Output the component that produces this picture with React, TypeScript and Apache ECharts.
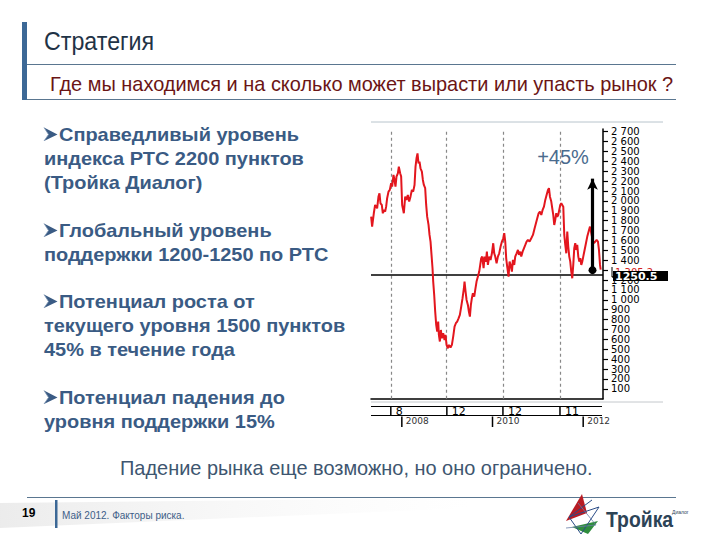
import React, { useEffect, useRef } from "react";
import * as echarts from "echarts";

// ---- data ----
const years: number[] = [
  2007.323, 2007.345, 2007.382, 2007.411, 2007.455, 2007.485, 2007.507, 2007.529, 2007.558, 2007.581,
  2007.603, 2007.632, 2007.654, 2007.676, 2007.706, 2007.735, 2007.764, 2007.787, 2007.816, 2007.838,
  2007.86, 2007.882, 2007.912, 2007.934, 2007.963, 2007.985, 2008.007, 2008.029, 2008.044, 2008.074,
  2008.103, 2008.132, 2008.162, 2008.191, 2008.221, 2008.25, 2008.28, 2008.302, 2008.324, 2008.346,
  2008.368, 2008.39, 2008.412, 2008.442, 2008.464, 2008.486, 2008.515, 2008.537, 2008.559, 2008.589,
  2008.611, 2008.633, 2008.655, 2008.677, 2008.692, 2008.714, 2008.736, 2008.758, 2008.78, 2008.802,
  2008.817, 2008.839, 2008.861, 2008.883, 2008.912, 2008.942, 2008.964, 2008.986, 2009.015,
  2009.038, 2009.074, 2009.104, 2009.133, 2009.163, 2009.192, 2009.221, 2009.251, 2009.28, 2009.31,
  2009.339, 2009.369, 2009.383, 2009.406, 2009.428, 2009.457, 2009.479, 2009.501, 2009.523, 2009.545,
  2009.567, 2009.597, 2009.619, 2009.648, 2009.678, 2009.707, 2009.729, 2009.751, 2009.773, 2009.803,
  2009.825, 2009.854, 2009.876, 2009.898, 2009.928, 2009.957, 2009.987, 2010.016, 2010.038, 2010.06,
  2010.09, 2010.119, 2010.148, 2010.178, 2010.208, 2010.237, 2010.259, 2010.281, 2010.302, 2010.324,
  2010.354, 2010.376, 2010.398, 2010.428, 2010.45, 2010.479, 2010.501, 2010.531, 2010.561, 2010.583,
  2010.612, 2010.634, 2010.664, 2010.693, 2010.723, 2010.752, 2010.781,
  2010.818, 2010.855, 2010.892, 2010.929, 2010.958, 2010.987, 2011.017, 2011.046, 2011.076, 2011.105,
  2011.135, 2011.164, 2011.193, 2011.223, 2011.245, 2011.267, 2011.296, 2011.318, 2011.34, 2011.362,
  2011.384, 2011.406, 2011.428, 2011.45, 2011.472, 2011.494, 2011.517, 2011.539, 2011.561, 2011.583,
  2011.605, 2011.627, 2011.649, 2011.671, 2011.693, 2011.715, 2011.737, 2011.759, 2011.781, 2011.803,
  2011.825, 2011.847, 2011.869, 2011.892, 2011.914, 2011.936, 2011.958, 2011.98, 2012.002, 2012.031,
  2012.061, 2012.09, 2012.12, 2012.15, 2012.179, 2012.208, 2012.238, 2012.267, 2012.296, 2012.326,
  2012.348, 2012.371, 2012.386,
];
const rts: number[] = [
  1841, 1740, 1875, 1959, 1925, 2043, 2077, 1976, 1959, 1875,
  1909, 1892, 1942, 2027, 2094, 2111, 2178, 2145, 2263, 2212,
  2145, 2246, 2279, 2347, 2279, 2246, 1959, 1909, 1875, 2043,
  2010, 2060, 1993, 2043, 2111, 2094, 2161, 2347, 2431, 2481,
  2380, 2397, 2330, 2296, 2212, 2161, 2128, 1959, 1841, 1757,
  1656, 1588, 1454, 1319, 1184, 1049, 881, 746, 679, 780,
  645, 578, 695, 611, 662, 594, 645, 544, 510,
  544, 517, 544, 628, 729, 763, 780, 813, 847, 931,
  1016, 1117, 1184, 1083, 999, 948, 881, 830, 948, 1016,
  1066, 1032, 1100, 1184, 1235, 1285, 1353, 1420, 1437, 1319,
  1437, 1386, 1487, 1353, 1437, 1403, 1470, 1572, 1470, 1437,
  1370, 1437, 1470, 1538, 1589, 1622, 1673, 1589, 1420, 1336,
  1235, 1386, 1353, 1285, 1403, 1353, 1437, 1470, 1504, 1454,
  1487, 1437, 1487, 1521, 1555, 1589, 1605,
  1589, 1622, 1656, 1723, 1774, 1824, 1875, 1892, 1858, 1909,
  1942, 2010, 2060, 2111, 2128, 2043, 1993, 1925, 1858, 1757,
  1808, 1875, 1841, 1858, 1909, 1959, 1976, 1959, 1942, 1656,
  1555, 1470, 1690, 1538, 1437, 1386, 1285, 1218, 1353, 1521,
  1572, 1504, 1555, 1437, 1386, 1420, 1353, 1386, 1437, 1504,
  1572, 1639, 1690, 1740, 1673, 1605, 1572, 1589, 1605, 1589,
  1504, 1353, 1305,
];
const monthMarks: number[] = [2007.757, 2008.993, 2010.23, 2011.488];
const monthLabels: string[] = ["8", "12", "12", "11"];
const yearMarks: number[] = [2008, 2010, 2012];
const yearLabels: string[] = ["2008", "2010", "2012"];
const supportLevel = 1250.5;
const supportLabel = "1250.5";
const lastValueLabel = "1 305.2";
const arrowX = 2012.206;
const arrowFrom = 1300;
const arrowTo = 2225;
const growthLabel = "+45%";
const hiddenTick = 1300;

const title = "Стратегия";
const subtitle = "Где мы находимся и на сколько может вырасти или упасть рынок ?";
const bulletLines: string[] = [
  "Справедливый уровень",
  "индекса РТС 2200 пунктов",
  "(Тройка Диалог)",
  "Глобальный уровень",
  "поддержки 1200-1250 по РТС",
  "Потенциал роста от",
  "текущего уровня 1500 пунктов",
  "45% в течение года",
  "Потенциал падения до",
  "уровня поддержки 15%",
];
const bulletStarts: boolean[] = [true, false, false, true, false, true, false, false, true, false];
const bulletY: number[] = [134, 158, 182, 230, 254, 301, 325, 349, 397, 421];
const conclusion = "Падение рынка еще возможно, но оно ограничено.";
const pageNo = "19";
const footerText = "Май 2012. Факторы риска.";
const brand = "Тройка";
const brandSup = "Диалог";

const X_MIN = 2007.32;
const X_MAX = 2012.437;

const fmt = (v: number) => {
  if (v <= 0 || v > 2700 || v % 100 !== 0 || v === hiddenTick) return "";
  const s = String(v);
  return s.length > 3 ? s.slice(0, s.length - 3) + " " + s.slice(-3) : s;
};

const SANS = "'Liberation Sans', Arial, 'DejaVu Sans', sans-serif";

export default function App() {
  const ref = useRef<HTMLDivElement>(null);
  useEffect(() => {
    if (!ref.current) return;
    const chart = echarts.init(ref.current, undefined, { renderer: "svg" });
    chart.setOption({
      animation: false,
      backgroundColor: "#ffffff",
      grid: { left: 371, right: 117, top: 129, bottom: 141.3 },
      xAxis: {
        type: "value",
        min: X_MIN,
        max: X_MAX,
        position: "top",
        axisLine: { show: true, lineStyle: { color: "#000", width: 1.5 } },
        axisTick: { show: false },
        axisLabel: { show: false },
        splitLine: { show: false },
      },
      yAxis: {
        type: "value",
        position: "right",
        min: 0,
        max: 2727,
        interval: 100,
        axisLine: { show: true, lineStyle: { color: "#000", width: 1.5 } },
        axisTick: { show: true, length: 5, lineStyle: { color: "#000", width: 1.2 } },
        axisLabel: {
          formatter: fmt,
          color: "#000",
          fontFamily: "'DejaVu Sans', sans-serif",
          fontSize: 10,
          lineHeight: 9,
          margin: 8,
          showMinLabel: false,
          showMaxLabel: false,
        },
        splitLine: { show: false },
      },
      series: [
        {
          type: "line",
          data: years.map((y, i) => [y, rts[i]]),
          showSymbol: false,
          lineStyle: { color: "#e3161e", width: 2 },
          z: 3,
          markLine: {
            silent: true,
            symbol: "none",
            label: { show: false },
            data: [
              ...monthMarks.map((m) => ({
                xAxis: m,
                lineStyle: { color: "#888", type: [3, 3], width: 1.2 },
              })),
              { yAxis: supportLevel, lineStyle: { color: "#000", type: "solid", width: 1.5 } },
            ],
            z: 2,
          },
        },
        {
          type: "line",
          data: [],
          markLine: {
            silent: true,
            symbol: ["circle", "arrow"],
            symbolSize: [8, 11],
            label: { show: false },
            lineStyle: { color: "#000", type: "solid", width: 3.2 },
            data: [[{ coord: [arrowX, arrowFrom] }, { coord: [arrowX, arrowTo] }]],
            z: 5,
          },
        },
      ],
    });

    const px = (v: number) => chart.convertToPixel({ xAxisIndex: 0 }, v) as number;
    const py = (v: number) => chart.convertToPixel({ yAxisIndex: 0 }, v) as number;
    const gLeft = px(X_MIN);
    const gRight = px(X_MAX);
    const row1Top = 406.5;
    const row1Bot = 415.5;
    const row2Bot = 427;
    const graphic: any[] = [];

    graphic.push({ type: "line", shape: { x1: gLeft, y1: 122, x2: 663, y2: 122 }, style: { stroke: "#b8c4cc", lineWidth: 1 } });
    graphic.push({ type: "line", shape: { x1: gLeft, y1: 402, x2: 663, y2: 402 }, style: { stroke: "#c4c8cc", lineWidth: 1 } });
    graphic.push({ type: "line", shape: { x1: gLeft, y1: row1Top, x2: gRight - 1, y2: row1Top }, style: { stroke: "#000", lineWidth: 1.2 } });
    graphic.push({ type: "line", shape: { x1: gLeft, y1: row1Bot, x2: gRight - 1, y2: row1Bot }, style: { stroke: "#000", lineWidth: 1.2 } });
    monthMarks.forEach((m, i) => {
      const x = px(m);
      graphic.push({ type: "line", shape: { x1: x, y1: row1Top, x2: x, y2: row1Bot }, style: { stroke: "#000", lineWidth: 1.5 } });
      graphic.push({
        type: "text", x: x + 5, y: (row1Top + row1Bot) / 2 + 0.5,
        style: { text: monthLabels[i], fill: "#000", font: "11px 'DejaVu Sans', sans-serif", textAlign: "left", textVerticalAlign: "middle" },
      });
    });
    yearMarks.forEach((m, i) => {
      const x = px(m);
      graphic.push({ type: "line", shape: { x1: x, y1: row1Bot + 1, x2: x, y2: row2Bot }, style: { stroke: "#000", lineWidth: 1.5 } });
      graphic.push({
        type: "text", x: x + 4, y: row1Bot + 5.5,
        style: { text: yearLabels[i], fill: "#333", font: "9px 'DejaVu Sans', sans-serif", textAlign: "left", textVerticalAlign: "middle" },
      });
    });

    const ySup = py(supportLevel);
    graphic.push({
      type: "text", x: gRight + 12, y: ySup - 3,
      style: { text: lastValueLabel, fill: "#d42020", font: "10px 'DejaVu Sans', sans-serif", textAlign: "left", textVerticalAlign: "middle" },
      z: 10,
    });
    graphic.push({
      type: "polyline", shape: { points: [[gRight + 9, ySup - 8], [gRight + 9, ySup + 2], [gRight + 12, ySup + 2]] },
      style: { stroke: "#000", lineWidth: 1, fill: null }, z: 10,
    });
    graphic.push({ type: "rect", shape: { x: gRight + 10, y: ySup - 4, width: 55, height: 10 }, style: { fill: "#000" }, z: 11 });
    graphic.push({
      type: "text", x: gRight + 12, y: ySup + 1.2,
      style: { text: supportLabel, fill: "#fff", font: "bold 11px 'DejaVu Sans', sans-serif", textAlign: "left", textVerticalAlign: "middle" },
      z: 12,
    });

    graphic.push({
      type: "text", x: 563, y: 157,
      style: { text: growthLabel, fill: "#4a6b8e", font: `20px ${SANS}`, textAlign: "center", textVerticalAlign: "middle" },
      z: 12,
    });

    // page header
    graphic.push({ type: "rect", shape: { x: 22, y: 22, width: 5, height: 78 }, style: { fill: "#3c6896" } });
    graphic.push({
      type: "text", x: 44, y: 41, scaleX: 0.93,
      style: { text: title, fill: "#1f3346", font: `25px ${SANS}`, textAlign: "left", textVerticalAlign: "middle" },
    });
    graphic.push({ type: "line", shape: { x1: 27, y1: 64.5, x2: 676, y2: 64.5 }, style: { stroke: "#5a7690", lineWidth: 1 } });
    graphic.push({
      type: "text", x: 50, y: 83, scaleX: 0.95,
      style: { text: subtitle, fill: "#6b1515", font: `21px ${SANS}`, textAlign: "left", textVerticalAlign: "middle" },
    });
    graphic.push({ type: "line", shape: { x1: 27, y1: 99.5, x2: 676, y2: 99.5 }, style: { stroke: "#5a7690", lineWidth: 1 } });

    bulletLines.forEach((t, i) => {
      const y = bulletY[i];
      if (bulletStarts[i]) {
        graphic.push({
          type: "polygon",
          shape: { points: [[44, y - 6.5], [57.5, y + 0.5], [44, y + 7], [48.5, y + 0.5]] },
          style: { fill: "#3a5b84" },
        });
        graphic.push({
          type: "polyline",
          shape: { points: [[44, y - 6.5], [48.5, y + 0.5], [44, y + 7]] },
          style: { stroke: "#7d95b3", lineWidth: 0.8, fill: null },
        });
      }
      graphic.push({
        type: "text", x: bulletStarts[i] ? 59 : 44, y, scaleX: 1.05,
        style: { text: t, fill: "#3a5b84", font: `bold 19px ${SANS}`, textAlign: "left", textVerticalAlign: "middle" },
      });
    });

    graphic.push({
      type: "text", x: 120, y: 467, scaleX: 0.95,
      style: { text: conclusion, fill: "#3e5670", font: `21px ${SANS}`, textAlign: "left", textVerticalAlign: "middle" },
    });

    // footer
    graphic.push({
      type: "polygon", shape: { points: [[0, 503], [470, 498], [470, 508], [0, 528]] },
      style: {
        fill: new echarts.graphic.LinearGradient(0, 0, 1, 0, [
          { offset: 0, color: "rgba(200,200,200,0.35)" },
          { offset: 1, color: "rgba(230,230,230,0)" },
        ]),
      },
    });
    graphic.push({ type: "line", shape: { x1: 27, y1: 497.5, x2: 676, y2: 497.5 }, style: { stroke: "#5a7690", lineWidth: 1 } });
    graphic.push({
      type: "text", x: 22, y: 513,
      style: { text: pageNo, fill: "#000", font: `bold 12px ${SANS}`, textAlign: "left", textVerticalAlign: "middle" },
    });
    graphic.push({ type: "rect", shape: { x: 55, y: 500, width: 2.5, height: 28 }, style: { fill: "#3c6896" } });
    graphic.push({
      type: "text", x: 62, y: 515,
      style: { text: footerText, fill: "#3e5e88", font: `10px ${SANS}`, textAlign: "left", textVerticalAlign: "middle" },
    });
    // logo
    graphic.push({ type: "polygon", shape: { points: [[566, 521], [582, 494], [587, 513]] }, style: { fill: "#b81c24" } });
    graphic.push({ type: "polygon", shape: { points: [[572, 527], [598, 521], [588, 534]] }, style: { fill: "#2f8d3d" } });
    graphic.push({
      type: "polyline", shape: { points: [[569, 517], [599, 507], [581, 534], [569, 517], [592, 500]] },
      style: { stroke: "#2a4c86", lineWidth: 1, fill: null },
    });
    graphic.push({
      type: "polyline", shape: { points: [[578, 503], [596, 525], [566, 528]] },
      style: { stroke: "#6a7fa8", lineWidth: 0.8, fill: null },
    });
    graphic.push({
      type: "text", x: 606, y: 519, scaleX: 0.88,
      style: { text: brand, fill: "#2c4356", font: `bold 22px ${SANS}`, textAlign: "left", textVerticalAlign: "middle" },
    });
    graphic.push({
      type: "text", x: 672, y: 512,
      style: { text: brandSup, fill: "#2c4356", font: `5px ${SANS}`, textAlign: "left", textVerticalAlign: "middle" },
    });

    chart.setOption({ graphic });
    return () => chart.dispose();
  }, []);
  return <div ref={ref} style={{ position: "absolute", left: 0, top: 0, width: 720, height: 540 }} />;
}
